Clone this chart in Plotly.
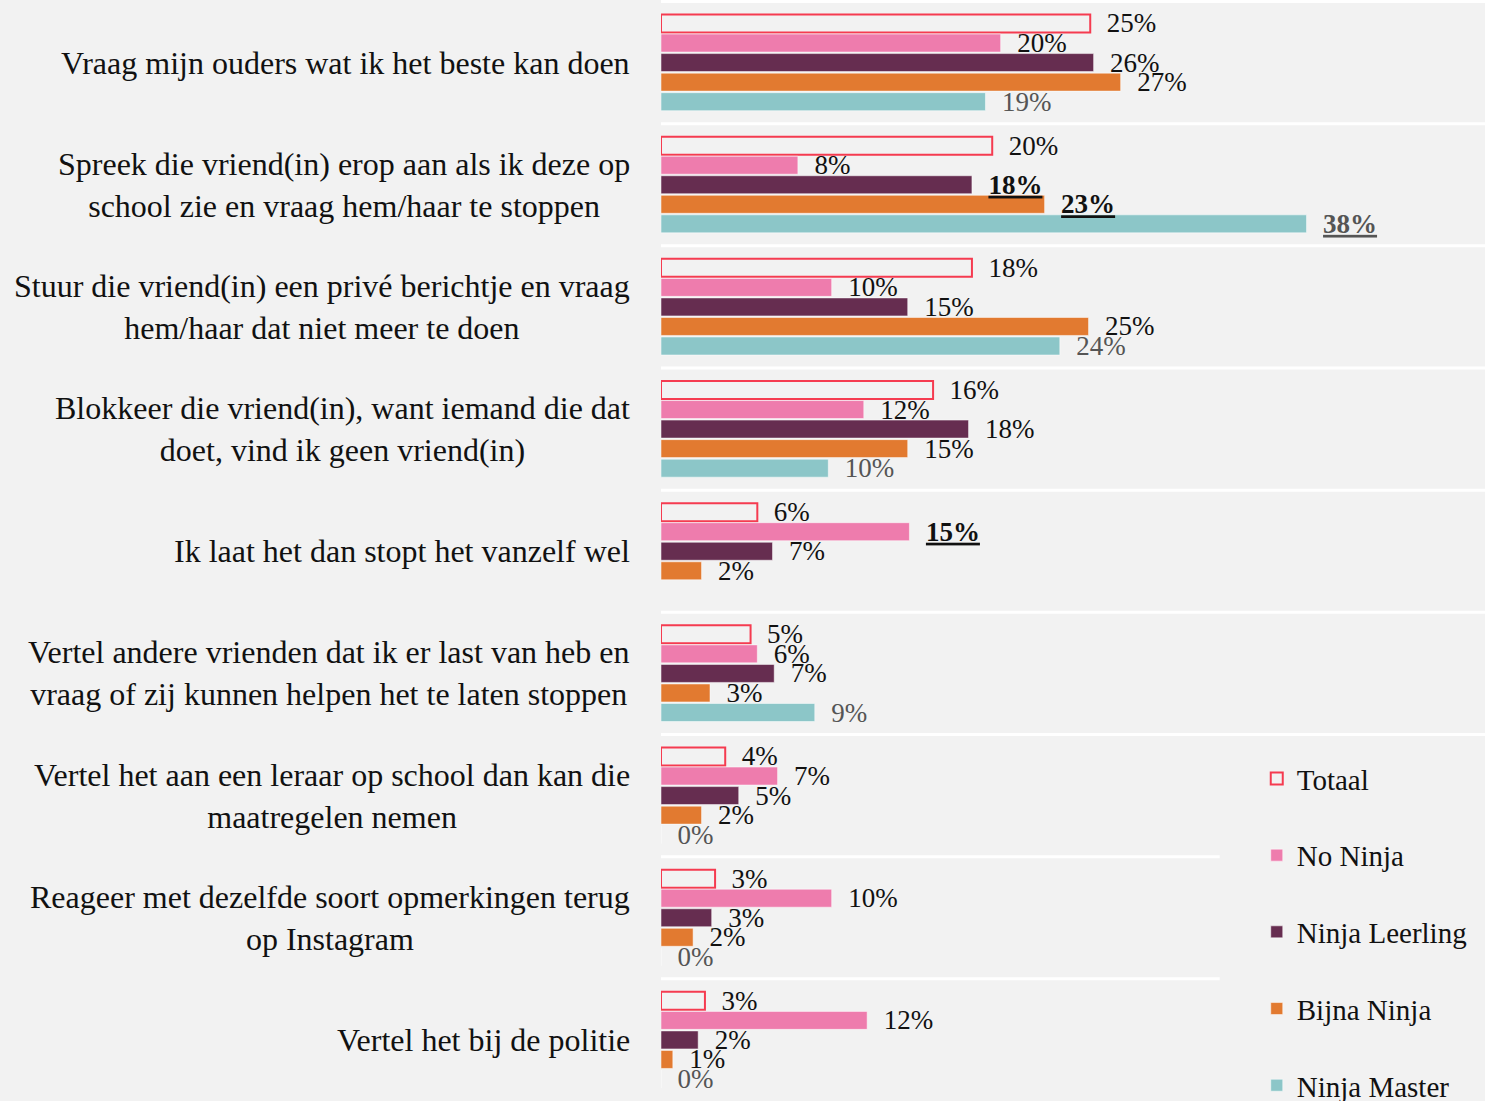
import plotly.graph_objects as go

categories = [
    "Vraag mijn ouders wat ik het beste kan doen",
    "Spreek die vriend(in) erop aan als ik deze op<br>school zie en vraag hem/haar te stoppen",
    "Stuur die vriend(in) een privé berichtje en vraag<br>hem/haar dat niet meer te doen",
    "Blokkeer die vriend(in), want iemand die dat<br>doet, vind ik geen vriend(in)",
    "Ik laat het dan stopt het vanzelf wel",
    "Vertel andere vrienden dat ik er last van heb en<br>vraag of zij kunnen helpen het te laten stoppen",
    "Vertel het aan een leraar op school dan kan die<br>maatregelen nemen",
    "Reageer met dezelfde soort opmerkingen terug<br>op Instagram",
    "Vertel het bij de politie",
]

series_names = ["Totaal", "No Ninja", "Ninja Leerling", "Bijna Ninja", "Ninja Master"]

totaal = [25.4, 19.6, 18.4, 16.1, 5.7, 5.3, 3.8, 3.2, 2.6]
no_ninja = [20.1, 8.1, 10.1, 12.0, 14.7, 5.7, 6.9, 10.1, 12.2]
ninja_leerling = [25.6, 18.4, 14.6, 18.2, 6.6, 6.7, 4.6, 3.0, 2.2]
bijna_ninja = [27.2, 22.7, 25.3, 14.6, 2.4, 2.9, 2.4, 1.9, 0.7]
ninja_master = [19.2, 38.2, 23.6, 9.9, None, 9.1, 0, 0, 0]

# indices of highlighted (bold, underlined) labels per series
highlight_totaal = []
highlight_no_ninja = [4]
highlight_ninja_leerling = [1]
highlight_bijna_ninja = [1]
highlight_ninja_master = [1]

all_values = [totaal, no_ninja, ninja_leerling, bijna_ninja, ninja_master]
all_highlights = [highlight_totaal, highlight_no_ninja, highlight_ninja_leerling,
                  highlight_bijna_ninja, highlight_ninja_master]

BG = "#f2f2f2"
FONT = "Liberation Serif"
fill_colors = ["rgba(0,0,0,0)", "#ee7cad", "#662d50", "#e27a30", "#8cc6c8"]
line_colors = ["#f53b50", "rgba(255,255,255,0.5)", "rgba(255,255,255,0.5)",
               "rgba(255,255,255,0.5)", "rgba(255,255,255,0.5)"]
line_widths = [2, 1, 1, 1, 1]
text_colors = ["#111111", "#111111", "#111111", "#111111", "#555555"]

PAD = "\u00a0\u00a0"


def make_labels(vals, hl):
    out = []
    for i, v in enumerate(vals):
        if v is None:
            out.append("")
            continue
        s = f"{round(v)}%"
        if i in hl:
            s = f'<b><span style="text-decoration:underline">{s}</span></b>'
        out.append(PAD + s)
    return out


fig = go.Figure()
# bars
for name, vals, fc, lc, lw in zip(series_names, all_values, fill_colors, line_colors, line_widths):
    fig.add_trace(go.Bar(
        name=name, y=categories, x=vals, orientation="h",
        marker=dict(color=fc, line=dict(color=lc, width=lw)),
        offsetgroup=name, legendgroup=name, hoverinfo="skip",
    ))
# value labels drawn on top of all bars
for name, vals, hl, tc in zip(series_names, all_values, all_highlights, text_colors):
    fig.add_trace(go.Bar(
        name=name, y=categories, x=vals, orientation="h",
        marker=dict(color="rgba(0,0,0,0)", line=dict(width=0)),
        text=make_labels(vals, hl), textposition="outside",
        textfont=dict(family=FONT, size=27, color=tc),
        constraintext="none", cliponaxis=False,
        offsetgroup=name, legendgroup=name, showlegend=False, hoverinfo="skip",
    ))

# category labels (centered multi-line, right-aligned block)
for c in categories:
    fig.add_annotation(
        x=-0.035, xref="paper", y=c, yref="y",
        text=c, showarrow=False, xanchor="right", yanchor="middle",
        align="center", font=dict(family=FONT, size=32, color="#111111"),
    )

# white separators between groups
n = len(categories)
for k in range(n):
    ypos = k - 0.5
    x1 = 0.678 if ypos in (6.5, 7.5) else 1
    fig.add_shape(type="line", xref="paper", x0=0, x1=x1, yref="y", y0=ypos, y1=ypos,
                  line=dict(color="white", width=3), layer="below")

fig.update_layout(
    width=1485, height=1101,
    paper_bgcolor=BG, plot_bgcolor=BG,
    margin=dict(l=661, r=0, t=0, b=0, autoexpand=False),
    barmode="group", bargap=0.2, bargroupgap=0.08,
    font=dict(family=FONT, size=27, color="#111111"),
    xaxis=dict(range=[0, 48.76], visible=False, showgrid=False, zeroline=False),
    yaxis=dict(autorange="reversed", showticklabels=False, showgrid=False,
               zeroline=False, ticks=""),
    showlegend=True,
    legend=dict(x=0.723, xanchor="left", y=0.316, yanchor="top",
                traceorder="grouped", tracegroupgap=36,
                font=dict(family=FONT, size=29, color="#111111"),
                bgcolor="rgba(0,0,0,0)"),
)

fig.write_html(
    "out.html",
    config={"displayModeBar": False},
    post_script="document.body.style.margin='0px';document.body.style.overflow='hidden';"
                "document.body.style.background='#f2f2f2';",
)
